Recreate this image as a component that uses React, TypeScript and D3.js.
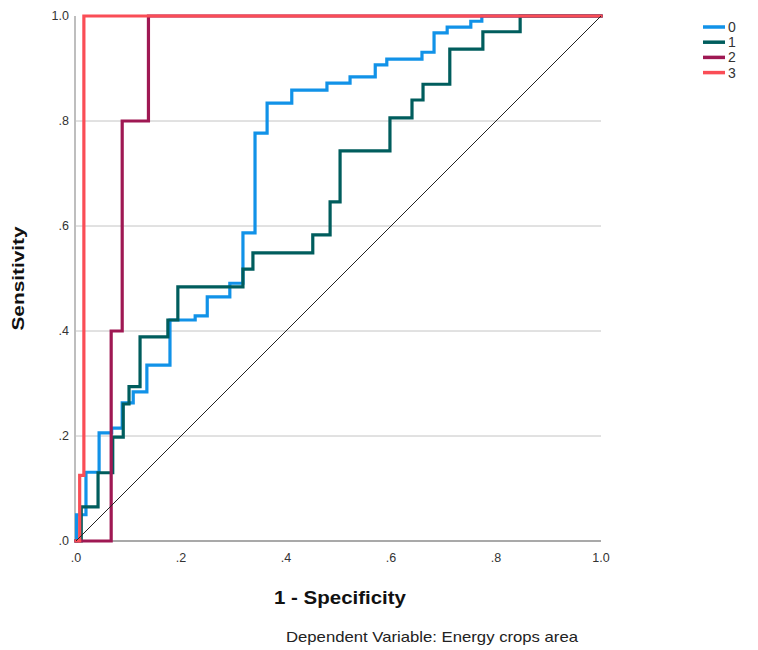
import React, { useEffect } from 'react';
import * as d3 from 'd3';

// ROC curves, one per category
const seriesNames = ['0', '1', '2', '3'];
const seriesColors = ['#1192e8', '#005d5d', '#9f1853', '#fa4d56'];

// points: 1 - specificity where the curve steps up, and sensitivity after the step
const fpr0 = [0, 0.001, 0.019, 0.044, 0.068, 0.088, 0.109, 0.135, 0.179, 0.227, 0.25, 0.293, 0.318, 0.341, 0.364, 0.411, 0.478, 0.522, 0.57, 0.592, 0.659, 0.682, 0.707, 0.752, 0.773, 1];
const tpr0 = [0, 0.05, 0.131, 0.206, 0.215, 0.263, 0.284, 0.335, 0.421, 0.429, 0.465, 0.491, 0.587, 0.777, 0.834, 0.859, 0.872, 0.884, 0.907, 0.918, 0.931, 0.968, 0.979, 0.99, 1, 1];

const fpr1 = [0, 0.01, 0.042, 0.07, 0.09, 0.101, 0.122, 0.175, 0.194, 0.318, 0.337, 0.451, 0.484, 0.503, 0.598, 0.64, 0.661, 0.712, 0.775, 0.846, 1];
const tpr1 = [0, 0.065, 0.13, 0.198, 0.261, 0.294, 0.389, 0.421, 0.484, 0.518, 0.549, 0.583, 0.646, 0.743, 0.806, 0.84, 0.87, 0.937, 0.97, 1, 1];

const fpr2 = [0, 0.067, 0.088, 0.138, 1];
const tpr2 = [0, 0.4, 0.8, 1, 1];

const fpr3 = [0, 0.007, 0.015, 1];
const tpr3 = [0, 0.125, 1, 1];

const allFpr = [fpr0, fpr1, fpr2, fpr3];
const allTpr = [tpr0, tpr1, tpr2, tpr3];

const tickValues = [0, 0.2, 0.4, 0.6, 0.8, 1];
const tickLabels = ['.0', '.2', '.4', '.6', '.8', '1.0'];

const xTitle = '1 - Specificity';
const yTitle = 'Sensitivity';
const footnote = 'Dependent Variable: Energy crops area';

export default function App() {
  useEffect(() => {
    document.body.style.margin = '0';
  }, []);

  const W = 758;
  const H = 650;
  const left = 76, right = 601, top = 16, bottom = 541;

  const x = d3.scaleLinear().domain([0, 1]).range([left, right]);
  const y = d3.scaleLinear().domain([0, 1]).range([bottom, top]);

  const line = d3.line<[number, number]>()
    .x(d => x(d[0]))
    .y(d => y(d[1]))
    .curve(d3.curveStepAfter);

  const font = 'Arial, "Liberation Sans", sans-serif';

  return (
    <svg width={W} height={H} style={{ display: 'block', background: '#fff' }}>
      {/* grid */}
      {tickValues.slice(1, 5).map(t => (
        <line key={t} x1={left} x2={right} y1={y(t)} y2={y(t)} stroke="#c4c4c4" strokeWidth={1} />
      ))}
      {/* axes */}
      <line x1={left - 1} x2={left - 1} y1={top} y2={bottom} stroke="#a8a8a8" strokeWidth={1.5} />
      <line x1={left} x2={right} y1={bottom} y2={bottom} stroke="#555" strokeWidth={1.2} />

      {/* curves */}
      {allFpr.map((fx, i) => {
        const pts = fx.map((v, j) => [v, allTpr[i][j]] as [number, number]);
        return (
          <path key={i} d={line(pts) || ''} fill="none" stroke={seriesColors[i]}
            strokeWidth={3.2} strokeLinejoin="miter" strokeLinecap="square" />
        );
      })}

      {/* reference diagonal */}
      <line x1={x(0)} y1={y(0)} x2={x(1)} y2={y(1)} stroke="#222" strokeWidth={1} />

      {/* tick labels */}
      {tickValues.map((t, i) => (
        <text key={'y' + i} x={left - 7} y={y(t)} dy="0.35em" textAnchor="end"
          fontFamily={font} fontSize={12.5} fill="#333">{tickLabels[i]}</text>
      ))}
      {tickValues.map((t, i) => (
        <text key={'x' + i} x={x(t)} y={bottom + 17} dy="0.35em" textAnchor="middle"
          fontFamily={font} fontSize={12.5} fill="#333">{tickLabels[i]}</text>
      ))}

      {/* axis titles */}
      <text x={340} y={604} textAnchor="middle" fontFamily={font} fontWeight="bold"
        fontSize={19} fill="#111" textLength={132} lengthAdjust="spacingAndGlyphs">{xTitle}</text>
      <text transform={`translate(24,${(top + bottom) / 2}) rotate(-90)`} textAnchor="middle"
        fontFamily={font} fontWeight="bold" fontSize={17} fill="#111"
        textLength={104} lengthAdjust="spacingAndGlyphs">{yTitle}</text>

      <text x={432} y={642} textAnchor="middle" fontFamily={font} fontSize={14.5} fill="#222"
        textLength={292} lengthAdjust="spacingAndGlyphs">{footnote}</text>

      {/* legend */}
      {seriesNames.map((name, i) => (
        <g key={name} transform={`translate(703,${27 + i * 15.2})`}>
          <line x1={0} x2={22} y1={0} y2={0} stroke={seriesColors[i]} strokeWidth={3.5} />
          <text x={25} y={0} dy="0.36em" fontFamily={font} fontSize={14} fill="#333">{name}</text>
        </g>
      ))}
    </svg>
  );
}
